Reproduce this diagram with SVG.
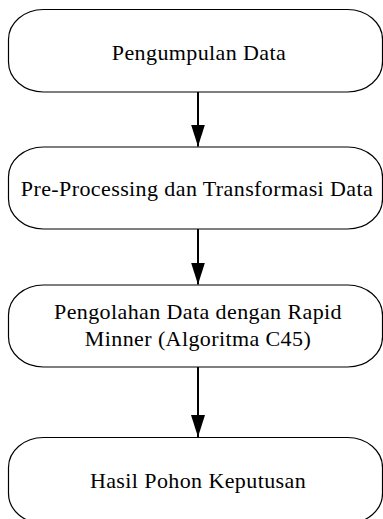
<svg xmlns="http://www.w3.org/2000/svg" width="383" height="519" viewBox="0 0 383 519">
<defs>
<style>
.box{fill:#fff;stroke:#000;stroke-width:1.2}
.lbl{font-size:22px;letter-spacing:0.4px;fill:#000;text-anchor:middle}
.edge{stroke:#000;stroke-width:2;fill:none}
</style>
<marker id="arr" viewBox="0 0 22 14" refX="22" refY="7" markerWidth="22" markerHeight="14" markerUnits="userSpaceOnUse" orient="auto">
<path d="M0,0 L22,7 L0,14 Z" fill="#000"/>
</marker>
</defs>
<rect width="383" height="519" fill="#fff"/>
<g id="node1">
<rect class="box" x="8.5" y="9.5" width="374" height="82.5" rx="35" ry="30"/>
<text class="lbl" font-family="Liberation Serif, DejaVu Serif, serif" x="199" y="60">Pengumpulan Data</text>
</g>
<g id="node2">
<rect class="box" x="8.5" y="147" width="374" height="82" rx="35" ry="30"/>
<text class="lbl" font-family="Liberation Serif, DejaVu Serif, serif" x="197" y="196">Pre-Processing dan Transformasi Data</text>
</g>
<g id="node3">
<rect class="box" x="8.5" y="285" width="374" height="82" rx="35" ry="30"/>
<text class="lbl" font-family="Liberation Serif, DejaVu Serif, serif" x="198" y="319">Pengolahan Data dengan Rapid</text>
<text class="lbl" font-family="Liberation Serif, DejaVu Serif, serif" x="198" y="346">Minner (Algoritma C45)</text>
</g>
<g id="node4">
<rect class="box" x="8.5" y="437.5" width="374" height="86" rx="35" ry="30"/>
<text class="lbl" font-family="Liberation Serif, DejaVu Serif, serif" x="198" y="488">Hasil Pohon Keputusan</text>
</g>
<g id="connectors">
<line class="edge" x1="198" y1="92" x2="198" y2="146.5" marker-end="url(#arr)"/>
<line class="edge" x1="198" y1="229" x2="198" y2="284.5" marker-end="url(#arr)"/>
<line class="edge" x1="198" y1="367" x2="198" y2="437" marker-end="url(#arr)"/>
</g>
</svg>
